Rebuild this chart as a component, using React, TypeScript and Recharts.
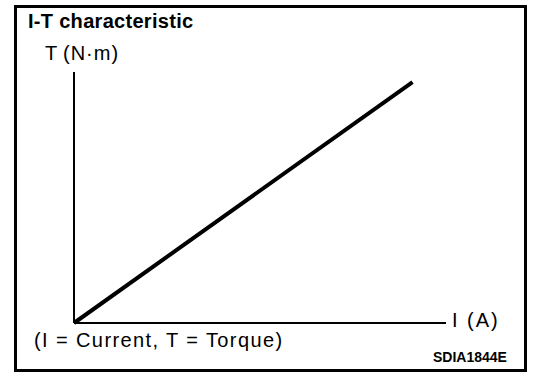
import { LineChart, Line, XAxis, YAxis } from "recharts";

// I-T characteristic: torque rises linearly with current
const current = [0, 91];
const torque = [0, 96];

const chartData = current.map((i, idx) => ({ i, t: torque[idx] }));

const FONT = "'Liberation Sans', Arial, Helvetica, sans-serif";

export default function App() {
  return (
    <div
      style={{
        position: "absolute",
        left: 0,
        top: 0,
        width: 560,
        height: 390,
        background: "#fff",
      }}
    >
      {/* frame */}
      <div
        style={{
          position: "absolute",
          left: 14,
          top: 5,
          width: 513,
          height: 367,
          border: "3.5px solid #000",
          boxSizing: "border-box",
        }}
      />

      <div style={{ position: "absolute", left: 0, top: 0 }}>
        <LineChart
          width={560}
          height={390}
          data={chartData}
          margin={{ top: 72, right: 114, bottom: 66, left: 73 }}
        >
          <XAxis
            dataKey="i"
            type="number"
            domain={[0, 100]}
            height={1}
            tick={false}
            tickLine={false}
            axisLine={{ stroke: "#000", strokeWidth: 2 }}
          />
          <YAxis
            type="number"
            domain={[0, 100]}
            width={1}
            tick={false}
            tickLine={false}
            axisLine={{ stroke: "#000", strokeWidth: 2 }}
          />
          <Line
            dataKey="t"
            type="linear"
            stroke="#000"
            strokeWidth={4}
            dot={false}
            isAnimationActive={false}
          />
        </LineChart>
      </div>

      {/* text */}
      <svg
        width={560}
        height={390}
        style={{ position: "absolute", left: 0, top: 0 }}
        fontFamily={FONT}
      >
        <text x={28} y={28} fontSize={20} fontWeight="bold" fill="#000" letterSpacing={0.3}>
          I-T characteristic
        </text>
        <text x={45} y={60} fontSize={20} fill="#000" letterSpacing={1}>
          T
        </text>
        <text x={63} y={60} fontSize={20} fill="#000" letterSpacing={1}>
          (N·m)
        </text>
        <text x={452} y={327} fontSize={20} fill="#000" letterSpacing={2}>
          I (A)
        </text>
        <text x={34} y={347} fontSize={20} fill="#000" letterSpacing={1.4}>
          (I = Current, T = Torque)
        </text>
        <text x={433} y={362} fontSize={14} fontWeight="bold" fill="#000">
          SDIA1844E
        </text>
      </svg>
    </div>
  );
}
